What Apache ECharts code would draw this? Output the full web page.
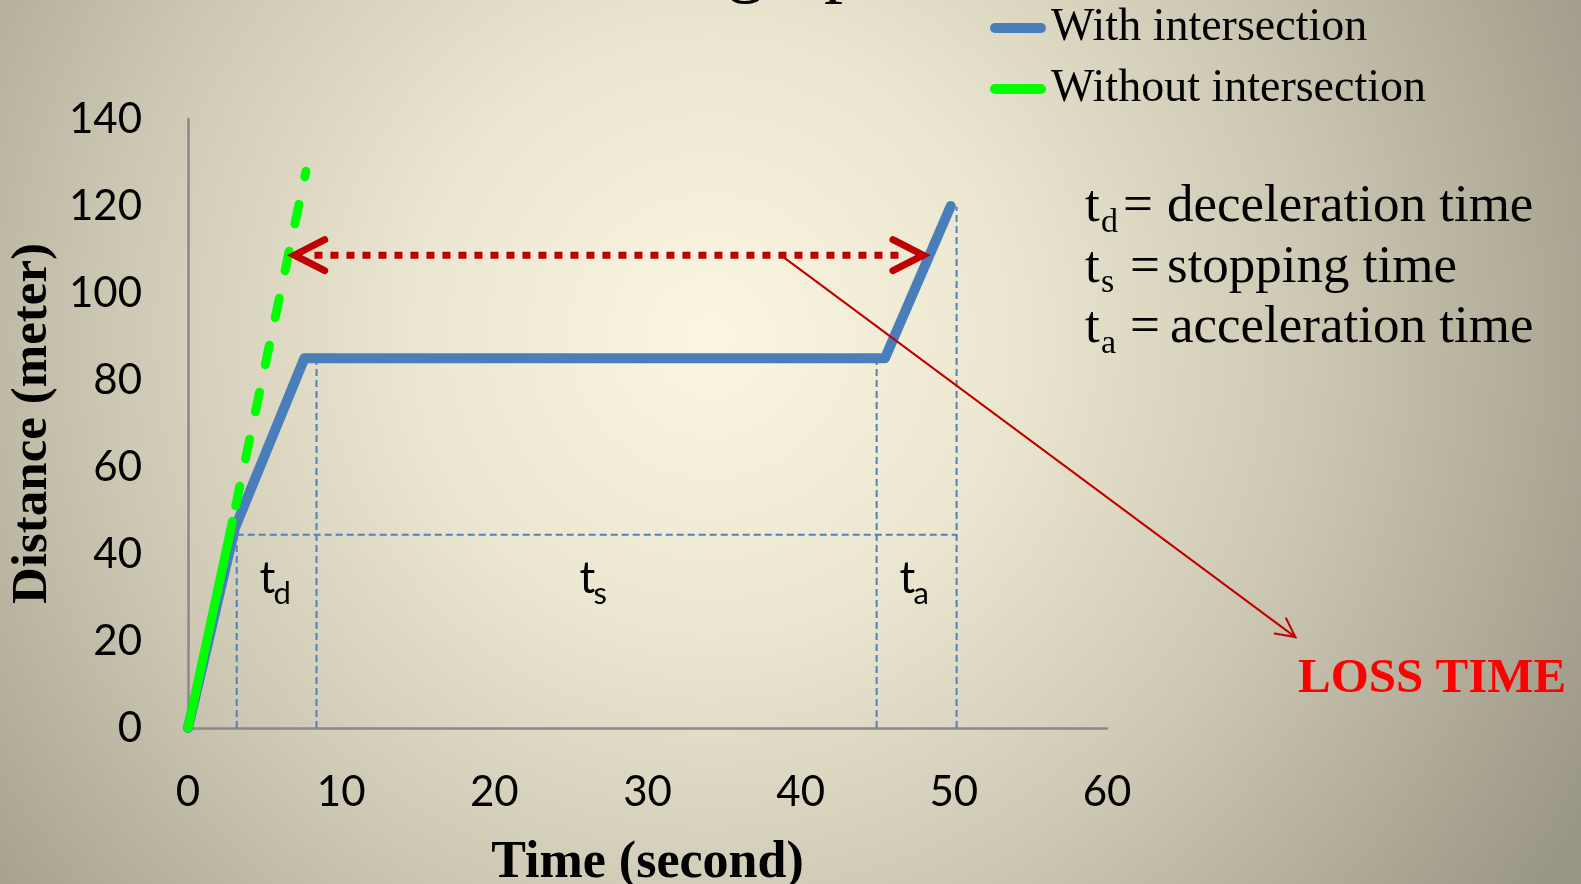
<!DOCTYPE html>
<html>
<head>
<meta charset="utf-8">
<title>Time-distance graph</title>
<script src="https://cdn.jsdelivr.net/npm/echarts@6/dist/echarts.min.js"></script>
<style>
  html, body { margin: 0; padding: 0; overflow: hidden; }
  #chart { width: 1581px; height: 884px; }
</style>
</head>
<body>
<div id="chart"></div>
<script>
const SERIF = '"Liberation Serif", "Times New Roman", serif';
const SANS = 'Lato, "Open Sans", sans-serif';

// Vehicle that has to stop at the intersection: time (s), distance (m)
const withIntersection = [[0, 0], [3.07, 46], [7.6, 85], [45.5, 85], [49.8, 120]];
// Same vehicle travelling freely, no intersection
const withoutIntersection = [[0, 0], [2.9, 47.5], [7.7, 128]];

// Phase boundaries (s) and the distance each boundary guide reaches (m)
const phaseTimes = [3.18, 8.39, 44.96, 50.18];
const phaseTopDistance = [44.4, 85.8, 85, 119.8];
const decelDistance = 44.4;
const phaseNames = ['d', 's', 'a'];
const phaseMeaning = ['deceleration time', 'stopping time', 'acceleration time'];

// Lost time between the two profiles, measured at one distance
const lossSpan = [6.95, 48.0];
const lossDistance = 108.7;
const lossPointer = [[38.7, 108.7], [72.3, 20.9]];

const BLUE = '#4a7ebb';
const GREEN = '#00ff00';
const DARK_RED = '#c00000';

function textEl(x, y, text, font, color, align) {
  return {
    type: 'text',
    style: {
      x: x, y: y, text: text, font: font, fill: color || '#000',
      align: align || 'left', verticalAlign: 'middle',
      textAlign: align || 'left', textVerticalAlign: 'middle'
    }
  };
}

// Dashed phase guides and the t_d / t_s / t_a labels between them
function renderGuides(params, api) {
  const children = [];
  const guide = { stroke: '#4f81bd', lineWidth: 2, lineDash: [7, 4], fill: null };
  phaseTimes.forEach(function (t, i) {
    const p0 = api.coord([t, 0]);
    const p1 = api.coord([t, phaseTopDistance[i]]);
    children.push({ type: 'line', shape: { x1: p0[0], y1: p0[1], x2: p1[0], y2: p1[1] }, style: guide });
  });
  const h0 = api.coord([phaseTimes[0], decelDistance]);
  const h1 = api.coord([phaseTimes[phaseTimes.length - 1], decelDistance]);
  children.push({ type: 'line', shape: { x1: h0[0], y1: h0[1], x2: h1[0], y2: h1[1] }, style: guide });

  phaseNames.forEach(function (name, i) {
    const mid = (phaseTimes[i] + phaseTimes[i + 1]) / 2;
    const p = api.coord([mid, 31]);
    const left = p[0] - 17;
    children.push(textEl(left, p[1] - 14, 't', '44px ' + SANS, '#000', 'left'));
    children.push(textEl(left + 14, p[1] + 1, name, '31px ' + SANS, '#000', 'left'));
  });
  return { type: 'group', children: children };
}

function chevron(tip, dirX, dirY, len, spreadDeg) {
  const a = Math.atan2(dirY, dirX);
  const s = spreadDeg * Math.PI / 180;
  return [
    [tip[0] + len * Math.cos(a + s), tip[1] + len * Math.sin(a + s)],
    tip,
    [tip[0] + len * Math.cos(a - s), tip[1] + len * Math.sin(a - s)]
  ];
}

// Red dotted double arrow for the lost time and the pointer to its caption
function renderLoss(params, api) {
  const children = [];
  const l = api.coord([lossSpan[0], lossDistance]);
  const r = api.coord([lossSpan[1], lossDistance]);
  children.push({
    type: 'line',
    shape: { x1: l[0] + 20, y1: l[1], x2: r[0] - 20, y2: r[1] },
    style: { stroke: DARK_RED, lineWidth: 7, lineDash: [8, 8], lineCap: 'butt' }
  });
  const head = { stroke: DARK_RED, lineWidth: 7, lineCap: 'round', lineJoin: 'miter', fill: null };
  children.push({ type: 'polyline', shape: { points: chevron(l, 1, 0, 34, 27) }, style: head });
  children.push({ type: 'polyline', shape: { points: chevron(r, -1, 0, 34, 27) }, style: head });

  const a = api.coord(lossPointer[0]);
  const b = api.coord(lossPointer[1]);
  const thin = { stroke: DARK_RED, lineWidth: 2, fill: null, lineCap: 'round' };
  children.push({ type: 'line', shape: { x1: a[0], y1: a[1], x2: b[0], y2: b[1] }, style: thin });
  children.push({ type: 'polyline', shape: { points: chevron(b, a[0] - b[0], a[1] - b[1], 21, 27) }, style: thin });
  return { type: 'group', children: children };
}

// Key to the phase symbols, one row per phase
const definitionGraphics = [];
const equalsLeft = [1123, 1130, 1130];
const phraseLeft = [1167, 1167, 1170];
phaseNames.forEach(function (name, i) {
  const base = 225 + i * 60.5;
  definitionGraphics.push(
    { type: 'text', left: 1085, top: base - 44, style: { text: 't', font: '53px ' + SERIF, fill: '#000' } },
    { type: 'text', left: 1101, top: base + 10 - 29, style: { text: name, font: '34px ' + SERIF, fill: '#000' } },
    { type: 'text', left: equalsLeft[i], top: base - 44, style: { text: '=', font: '53px ' + SERIF, fill: '#000' } },
    { type: 'text', left: phraseLeft[i], top: base - 44, style: { text: phaseMeaning[i], font: '53px ' + SERIF, fill: '#000' } }
  );
});

const chart = echarts.init(document.getElementById('chart'), null, { renderer: 'canvas' });

chart.setOption({
  animation: false,
  graphic: [
    {
      type: 'rect', z: -100, silent: true,
      shape: { x: 0, y: 0, width: 1581, height: 884 },
      style: {
        fill: {
          type: 'radial', x: 711, y: 336, r: 1000, global: true,
          colorStops: [
            { offset: 0, color: '#fbf6e0' },
            { offset: 0.3, color: '#ebe6d0' },
            { offset: 0.6, color: '#cdc8b3' },
            { offset: 0.9, color: '#a6a28f' },
            { offset: 1, color: '#9a9684' }
          ]
        }
      }
    },
    {
      type: 'text', left: 276, top: -70,
      style: { text: 'Time-distance graph', font: '76px ' + SERIF, fill: '#000' }
    },
    {
      type: 'text', left: 1298, top: 655,
      style: { text: 'LOSS TIME', font: 'bold 49px ' + SERIF, fill: '#ff0000' }
    }
  ].concat(definitionGraphics),
  legend: {
    orient: 'vertical',
    left: 990,
    top: 5,
    padding: 0,
    itemGap: 15,
    itemWidth: 56,
    itemHeight: 10,
    selectedMode: false,
    icon: 'path://M5,0L51,0A5,5,0,0,1,51,10L5,10A5,5,0,0,1,5,0Z',
    itemStyle: { borderWidth: 0 },
    textStyle: { fontFamily: SERIF, fontSize: 46, color: '#000' },
    data: ['With intersection', 'Without intersection']
  },
  grid: { left: 188, right: 474, top: 119, bottom: 156, containLabel: false, outerBoundsMode: 'none' },
  xAxis: {
    type: 'value', min: 0, max: 60, interval: 10,
    splitLine: { show: false },
    axisTick: { show: false },
    axisLine: { lineStyle: { color: '#898989', width: 2.5 } },
    axisLabel: { fontFamily: SANS, fontSize: 42, color: '#000', margin: 43 },
    name: 'Time (second)', nameLocation: 'middle', nameGap: 110,
    nameTextStyle: { fontFamily: SERIF, fontWeight: 'bold', fontSize: 52, color: '#000' }
  },
  yAxis: {
    type: 'value', min: 0, max: 140, interval: 20,
    splitLine: { show: false },
    axisTick: { show: false },
    axisLine: { show: true, lineStyle: { color: '#898989', width: 2.5 } },
    axisLabel: { fontFamily: SANS, fontSize: 42, color: '#000', margin: 46 },
    name: 'Distance (meter)', nameLocation: 'middle', nameGap: 130, nameRotate: 90,
    nameTextStyle: { fontFamily: SERIF, fontWeight: 'bold', fontSize: 51, color: '#000' }
  },
  series: [
    {
      type: 'custom', name: 'phases', coordinateSystem: 'cartesian2d', silent: true,
      data: [[0, 0]], renderItem: renderGuides, z: 1
    },
    {
      type: 'line', name: 'With intersection', data: withIntersection,
      symbol: 'none', showSymbol: false, silent: true, z: 3,
      itemStyle: { color: BLUE },
      lineStyle: { color: BLUE, width: 10, cap: 'round', join: 'round' }
    },
    {
      type: 'line', name: 'Without intersection', data: withoutIntersection.slice(1),
      symbol: 'none', showSymbol: false, silent: true, z: 4,
      itemStyle: { color: GREEN },
      lineStyle: { color: GREEN, width: 9, type: [20, 28], dashOffset: 32, cap: 'round' }
    },
    {
      type: 'line', name: 'Without intersection', data: withoutIntersection.slice(0, 2),
      symbol: 'none', showSymbol: false, silent: true, z: 5,
      itemStyle: { color: GREEN },
      lineStyle: { color: GREEN, width: 9, cap: 'round' }
    },
    {
      type: 'custom', name: 'loss', coordinateSystem: 'cartesian2d', silent: true,
      data: [[0, 0]], renderItem: renderLoss, z: 6
    }
  ]
});
</script>
</body>
</html>
